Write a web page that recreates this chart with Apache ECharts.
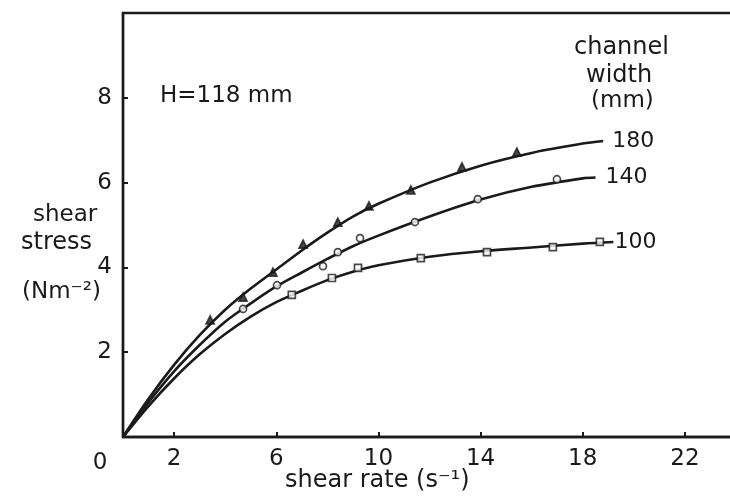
<!DOCTYPE html>
<html>
<head>
<meta charset="utf-8">
<script src="https://cdn.jsdelivr.net/npm/echarts@6/dist/echarts.min.js"></script>
<style>
html,body{margin:0;padding:0;background:#fff;}
#c{width:730px;height:496px;}
</style>
</head>
<body>
<div id="c"></div>
<script>
// ---- data ----
const seriesNames = ['180', '140', '100'];
// measured points (shear rate, shear stress)
const pts180 = [[3.41,2.76],[4.70,3.30],[5.87,3.89],[7.05,4.55],[8.41,5.07],[9.63,5.45],[11.27,5.83],[13.27,6.37],[15.42,6.72]];
const pts140 = [[4.70,3.02],[6.03,3.58],[7.83,4.03],[8.41,4.36],[9.28,4.69],[11.43,5.07],[13.89,5.61],[16.99,6.08]];
const pts100 = [[6.61,3.35],[8.18,3.75],[9.20,3.99],[11.66,4.22],[14.25,4.36],[16.83,4.48],[18.67,4.60]];
// fitted curves as drawn
const curve180 = [[0,0],[1,0.9],[2,1.7],[3,2.4],[4,3.0],[5,3.5],[6,3.95],[7,4.4],[8,4.82],[9,5.2],[10,5.5],[12,6.0],[14,6.4],[16,6.7],[18,6.92],[18.8,6.98]];
const curve140 = [[0,0],[1,0.82],[2,1.55],[3,2.17],[4,2.72],[5,3.15],[6,3.55],[7,3.88],[8,4.2],[9,4.5],[10,4.75],[12,5.2],[14,5.6],[16,5.9],[18,6.1],[18.5,6.12]];
const curve100 = [[0,0],[1,0.73],[2,1.38],[3,1.95],[4,2.43],[5,2.84],[6,3.18],[7,3.45],[8,3.7],[9,3.9],[10,4.05],[12,4.25],[14,4.38],[16,4.47],[18,4.56],[19.2,4.6]];
const xTickLabels = [0, 2, 6, 10, 14, 18, 22];
const xTicks = [2, 6, 10, 14, 18, 22];
const yTickLabels = [2, 4, 6, 8];

const FONT = '"DejaVu Sans",sans-serif';
const INK = '#1a1a1a';

const chart = echarts.init(document.getElementById('c'), null, {renderer: 'canvas'});

function curveSeries(name, data, dist) {
  return {
    name: name, type: 'line', data: data, smooth: 0.3, symbol: 'none',
    lineStyle: {color: INK, width: 2.6},
    endLabel: {show: true, formatter: name, distance: dist, color: INK,
      fontFamily: FONT, fontSize: 22},
    z: 2
  };
}
function markSeries(name, data, symbol, filled, size) {
  return {
    name: name + ' pts', type: 'scatter', data: data, symbol: symbol, symbolSize: size,
    itemStyle: {color: filled ? INK : '#fff', borderColor: INK, borderWidth: 1.7},
    z: 3
  };
}

chart.setOption({
  animation: false,
  backgroundColor: '#fff',
  grid: {left: 123, width: 613, top: 13, height: 424, containLabel: false, outerBoundsMode: 'none',
    show: true, borderColor: INK, borderWidth: 2.4, backgroundColor: 'transparent'},
  xAxis: {
    type: 'value', min: 0, max: 24,
    axisLine: {show: true, lineStyle: {color: INK, width: 2.4}},
    axisTick: {show: true, inside: true, length: 5, customValues: xTicks, lineStyle: {color: INK, width: 2}},
    axisLabel: {
      customValues: xTickLabels, color: INK, fontFamily: FONT, fontSize: 23, margin: 11,
      formatter: v => v === 0 ? '{z|0}' : String(v),
      rich: {z: {fontFamily: FONT, fontSize: 23, color: INK, padding: [4, 46, 0, 0]}}
    },
    splitLine: {show: false}
  },
  yAxis: {
    type: 'value', min: 0, max: 10,
    axisLine: {show: true, lineStyle: {color: INK, width: 2.4}},
    axisTick: {show: true, inside: true, length: 5, customValues: yTickLabels, lineStyle: {color: INK, width: 2}},
    axisLabel: {customValues: yTickLabels, color: INK, fontFamily: FONT, fontSize: 23, margin: 11},
    splitLine: {show: false}
  },
  series: [
    curveSeries(seriesNames[0], curve180, 9),
    curveSeries(seriesNames[1], curve140, 10),
    curveSeries(seriesNames[2], curve100, 1),
    markSeries(seriesNames[0], pts180, 'triangle', true, 8),
    markSeries(seriesNames[1], pts140, 'circle', false, 7),
    markSeries(seriesNames[2], pts100, 'rect', false, 7)
  ],
  graphic: [
    {type: 'text', left: 160, top: 85, style: {text: 'H=118 mm', fill: INK, font: '23px ' + FONT}},
    {type: 'text', left: 574, top: 36, style: {text: 'channel', fill: INK, font: '24px ' + FONT}},
    {type: 'text', left: 586, top: 64, style: {text: 'width', fill: INK, font: '24px ' + FONT}},
    {type: 'text', left: 591, top: 90, style: {text: '(mm)', fill: INK, font: '23px ' + FONT}},
    {type: 'text', left: 33, top: 204, style: {text: 'shear', fill: INK, font: '23px ' + FONT}},
    {type: 'text', left: 21, top: 231, style: {text: 'stress', fill: INK, font: '24px ' + FONT}},
    {type: 'text', left: 22, top: 281, style: {text: '(Nm\u207B\u00B2)', fill: INK, font: '23px ' + FONT}},
    {type: 'text', left: 285, top: 469, style: {text: 'shear rate (s\u207B\u00B9)', fill: INK, font: '24px ' + FONT}}
  ]
});
</script>
</body>
</html>
